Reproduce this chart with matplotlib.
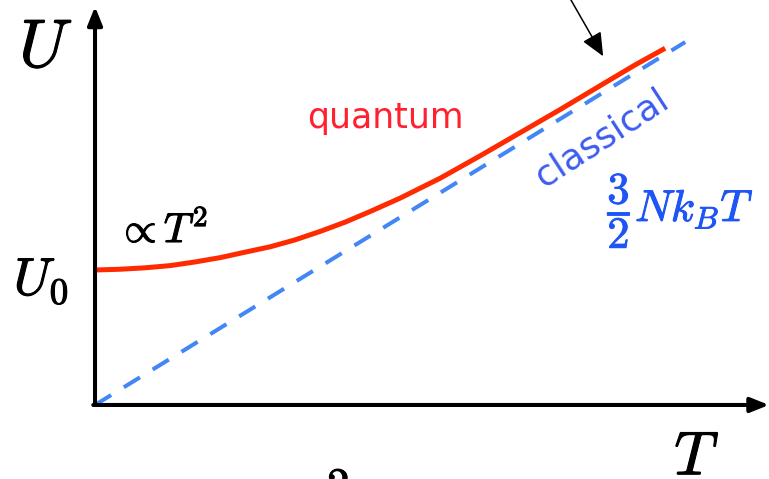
import matplotlib
matplotlib.use("Agg")
import matplotlib.pyplot as plt
import matplotlib.patheffects as pe

plt.rcParams["mathtext.fontset"] = "cm"

# reduced temperature and energy (classical line has U = T)
T_quantum = [0.0, 0.042, 0.085, 0.127, 0.169, 0.212, 0.254, 0.297, 0.339, 0.381,
             0.424, 0.466, 0.517, 0.585, 0.653, 0.720, 0.788, 0.856, 0.915, 0.966]
U_quantum = [0.372, 0.374, 0.378, 0.384, 0.394, 0.406, 0.421, 0.436, 0.455, 0.478,
             0.504, 0.533, 0.570, 0.625, 0.687, 0.750, 0.814, 0.880, 0.937, 0.983]
T_classical = [0.0, 1.0]
U_classical = [0.0, 1.0]

fig = plt.figure(figsize=(7.69, 4.79), dpi=100)
ax = fig.add_axes([0, 0, 1, 1])
ax.set_xlim(-0.161, 1.142)
ax.set_ylim(-0.204, 1.116)
ax.axis("off")

# curves
ax.plot(T_classical, U_classical, color="#4287f5", lw=2.9,
        linestyle=(0, (4.7, 3.7)), dash_capstyle="butt", zorder=2)
ax.plot(T_quantum, U_quantum, color="#ff2a00", lw=3.6,
        solid_capstyle="butt", solid_joinstyle="round", zorder=3)

# axes drawn as arrows
axis_arrow = dict(arrowstyle="-|>,head_length=0.55,head_width=0.22",
                  color="black", lw=2.9, mutation_scale=20,
                  shrinkA=0, shrinkB=0)
ax.annotate("", xy=(0, 1.098), xytext=(0, 0), arrowprops=axis_arrow, zorder=4)
ax.annotate("", xy=(1.142, 0), xytext=(-0.003, 0), arrowprops=axis_arrow, zorder=4)

# pointer arrow at the top
ax.annotate("", xy=(0.861, 0.961), xytext=(0.798, 1.14),
            arrowprops=dict(arrowstyle="-|>,head_length=0.9,head_width=0.4",
                            color="black", lw=1.1, mutation_scale=16,
                            shrinkA=0, shrinkB=0))

# slightly heavier math glyphs
bold_k = [pe.withStroke(linewidth=0.8, foreground="black")]
bold_b = [pe.withStroke(linewidth=0.7, foreground="#1f55f5")]

# labels
ax.text(-0.083, 0.931, r"$U$", fontsize=49, ha="center", va="baseline", path_effects=bold_k)
ax.text(-0.091, 0.303, r"$U_0$", fontsize=38, ha="center", va="baseline", path_effects=bold_k)
ax.text(1.020, -0.192, r"$T$", fontsize=44, ha="center", va="baseline", path_effects=bold_k)
ax.text(0.037, 0.449, r"$\propto T^2$", fontsize=30, ha="left", va="baseline", path_effects=bold_k)
ax.text(0.412, -0.165, r"$\mathbf{2}$", fontsize=32, ha="center", va="top", path_effects=bold_k)

ax.text(0.492, 0.763, "quantum", color="#ff2030", fontsize=25,
        family="DejaVu Sans", ha="center", va="baseline")
ax.text(0.859, 0.736, "classical", color="#3d5cf0", fontsize=26,
        family="DejaVu Sans", ha="center", va="center",
        rotation=33, rotation_mode="anchor")
ax.text(0.992, 0.534, r"$\dfrac{\mathbf{3}}{\mathbf{2}}Nk_BT$", color="#1f55f5",
        fontsize=32, ha="center", va="center", path_effects=bold_b)

fig.savefig("out.png", dpi=100)
